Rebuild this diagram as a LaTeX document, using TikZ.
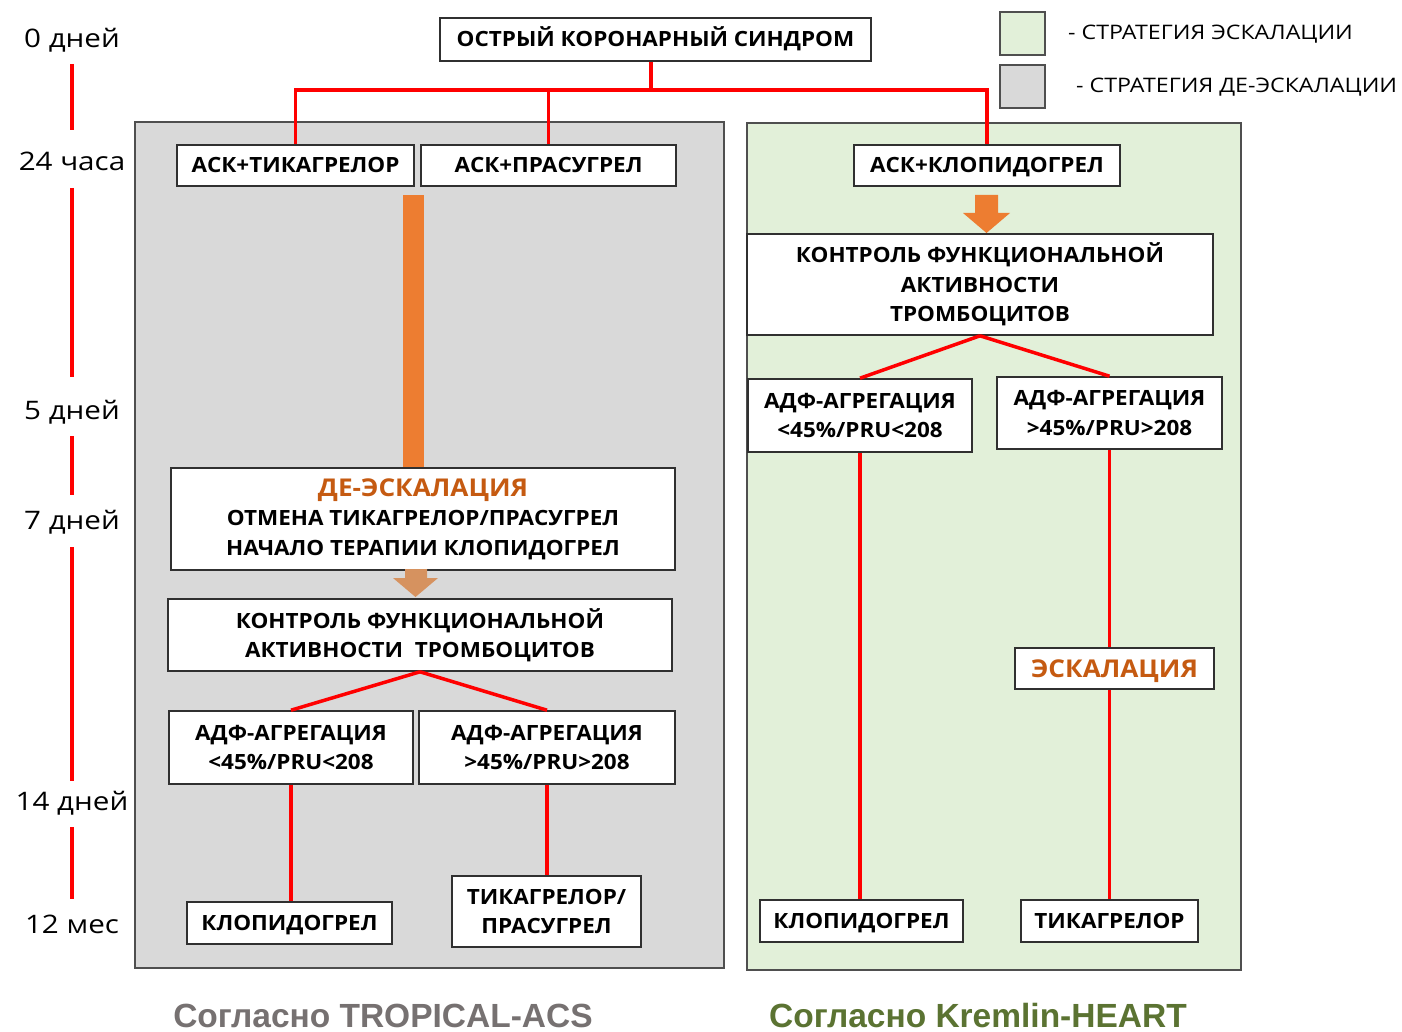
\documentclass[tikz,border=0pt]{standalone}
\usepackage{fontspec}
\setmainfont{Open Sans}
\newfontfamily\boxfont[FakeStretch=1.07]{Open Sans}
\newfontfamily\widefont[FakeStretch=1.16]{Open Sans}
\newfontfamily\footfont{Liberation Sans}
\usetikzlibrary{calc}
\definecolor{panelgray}{HTML}{D9D9D9}
\definecolor{panelgreen}{HTML}{E2F0D9}
\definecolor{arroworange}{HTML}{ED7D31}
\definecolor{arrowtan}{HTML}{D6925F}
\definecolor{textorange}{HTML}{C55A11}
\definecolor{labelgray}{HTML}{767171}
\definecolor{labelgreen}{HTML}{5B7332}
\definecolor{edge}{HTML}{303030}
\newcommand\myorhead{\fontsize{24.5}{29.5}\selectfont\color{textorange}}
\begin{document}
\begin{tikzpicture}[x=1pt,y=-1pt,
 box/.style={draw=edge, line width=1.6pt, fill=white, inner sep=0pt, align=center, font=\boxfont\bfseries\fontsize{21}{29.5}\selectfont, text=black},
 oneline/.style={text height=15pt, text depth=0pt},
 orline/.style={text height=17.5pt, text depth=0pt},
 redline/.style={draw=red, line width=3.5pt},
 panel/.style={draw=edge!85, line width=1.5pt},
 timelbl/.style={font=\widefont\fontsize{25.5}{28}\selectfont, inner sep=0pt, text height=18.2pt, text depth=0pt},
 legtxt/.style={font=\widefont\fontsize{20}{24}\selectfont, anchor=west, inner sep=0pt, text height=14.3pt, text depth=0pt},
 footlbl/.style={font=\footfont\bfseries\fontsize{33.5}{36}\selectfont, inner sep=0pt, text height=24pt, text depth=0pt}
]
\useasboundingbox (0,0) rectangle (1402,1032);
\fill[white] (0,0) rectangle (1402,1032);

% panels
\filldraw[panel, fill=panelgray] (135,122) rectangle (724,968);
\filldraw[panel, fill=panelgreen] (747,123) rectangle (1241,970);

% legend
\filldraw[panel, fill=panelgreen] (1000,12) rectangle (1045,55);
\filldraw[panel, fill=panelgray] (1000,65) rectangle (1045,108);
\node[legtxt] (leg1) at (1068,32) {- СТРАТЕГИЯ ЭСКАЛАЦИИ};
\node[legtxt] (leg2) at (1076,85) {- СТРАТЕГИЯ ДЕ-ЭСКАЛАЦИИ};

% timeline
\node[timelbl] (t0) at (72,38) {0 дней};
\node[timelbl] (t24) at (72,161) {24 часа};
\node[timelbl] (t5) at (72,410) {5 дней};
\node[timelbl] (t7) at (72,520) {7 дней};
\node[timelbl] (t14) at (72,801) {14 дней};
\node[timelbl] (t12) at (72,924) {12 мес};
\draw[redline, shorten <=26pt, shorten >=31pt] (t0.center) -- (t24.center);
\draw[redline, shorten <=27pt, shorten >=33pt] (t24.center) -- (t5.center);
\draw[redline, shorten <=26pt, shorten >=25pt] (t5.center) -- (t7.center);
\draw[redline, shorten <=27pt, shorten >=20pt] (t7.center) -- (t14.center);
\draw[redline, shorten <=26pt, shorten >=25pt] (t14.center) -- (t12.center);

% top
\node[box, oneline, minimum width=431, minimum height=43] (title) at (655.5,39.5) {ОСТРЫЙ КОРОНАРНЫЙ СИНДРОМ};
\node[box, oneline, minimum width=237, minimum height=41] (asktik) at (295.5,165.5) {АСК+ТИКАГРЕЛОР};
\node[box, oneline, minimum width=255, minimum height=41] (askpra) at (548.5,165.5) {АСК+ПРАСУГРЕЛ};
\node[box, oneline, minimum width=266, minimum height=41] (askklo) at (987,165.5) {АСК+КЛОПИДОГРЕЛ};

\coordinate (j) at (651,90);
\draw[redline] (j |- title.south) -- (j);
\draw[redline] (asktik.north) |- (j);
\draw[redline] (askpra.north) -- (askpra.north |- j);
\draw[redline] (j) -| (askklo.north);

% left column
\node[box, minimum width=504, minimum height=102] (deesc) at (423,519)
 {{\myorhead ДЕ-ЭСКАЛАЦИЯ}\\ОТМЕНА ТИКАГРЕЛОР/ПРАСУГРЕЛ\\НАЧАЛО ТЕРАПИИ КЛОПИДОГРЕЛ};
\fill[arroworange] (403,195) rectangle (424,467);
\node[box, minimum width=504, minimum height=72] (ctrlL) at (420,635)
 {КОНТРОЛЬ ФУНКЦИОНАЛЬНОЙ\\АКТИВНОСТИ~ ТРОМБОЦИТОВ};
\fill[arrowtan] (405,569) -- (427,569) -- (427,578) -- (438,578) -- (415.5,597) -- (393,578) -- (405,578) -- cycle;
\node[box, minimum width=244, minimum height=73] (adfL) at (291,747.5) {АДФ-АГРЕГАЦИЯ\\<45\%/PRU<208};
\node[box, minimum width=256, minimum height=73] (adfR) at (547,747.5) {АДФ-АГРЕГАЦИЯ\\>45\%/PRU>208};
\node[box, oneline, minimum width=205, minimum height=42] (klopL) at (289.5,923) {КЛОПИДОГРЕЛ};
\node[box, minimum width=189, minimum height=71] (tikpra) at (546.5,911.5) {ТИКАГРЕЛОР/\\ПРАСУГРЕЛ};
\draw[redline] (ctrlL.south) -- (adfL.north);
\draw[redline] (ctrlL.south) -- (adfR.north);
\draw[redline] (adfL.south) -- (adfL.south |- klopL.north);
\draw[redline] (adfR.south) -- (adfR.south |- tikpra.north);

% right column
\fill[arroworange] (975,195) -- (998,195) -- (998,213) -- (1010,213) -- (986.5,233) -- (963,213) -- (975,213) -- cycle;
\node[box, minimum width=466, minimum height=101] (ctrlR) at (980,284.5)
 {КОНТРОЛЬ ФУНКЦИОНАЛЬНОЙ\\АКТИВНОСТИ\\ТРОМБОЦИТОВ};
\node[box, minimum width=224, minimum height=73] (adfRL) at (860,415.5) {АДФ-АГРЕГАЦИЯ\\<45\%/PRU<208};
\node[box, minimum width=225, minimum height=72] (adfRR) at (1109.5,413) {АДФ-АГРЕГАЦИЯ\\>45\%/PRU>208};
\node[box, orline, minimum width=199, minimum height=41] (esc) at (1114.5,668.5) {\myorhead ЭСКАЛАЦИЯ};
\node[box, oneline, minimum width=203, minimum height=42] (klopR) at (861.5,921) {КЛОПИДОГРЕЛ};
\node[box, oneline, minimum width=177, minimum height=42] (tikR) at (1109.5,921) {ТИКАГРЕЛОР};
\draw[redline] (ctrlR.south) -- (adfRL.north);
\draw[redline] (ctrlR.south) -- (adfRR.north);
\draw[redline] (adfRL.south) -- (adfRL.south |- klopR.north);
\draw[redline] (adfRR.south) -- (adfRR.south |- esc.north);
\draw[redline] (adfRR.south |- esc.south) -- (adfRR.south |- tikR.north);

% footer labels
\node[footlbl, text=labelgray] (footL) at (383,1015) {Согласно TROPICAL-ACS};
\node[footlbl, text=labelgreen] (footR) at (978,1015) {Согласно Kremlin-HEART};
\end{tikzpicture}
\end{document}
